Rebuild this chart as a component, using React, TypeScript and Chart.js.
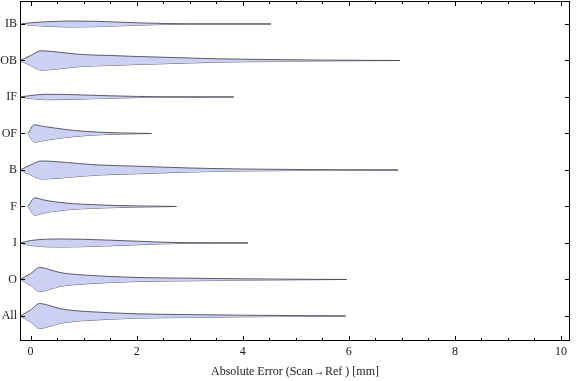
import React, { useEffect, useRef } from "react";
import { Chart, registerables } from "chart.js";

Chart.register(...registerables);

// Categories, bottom (1) to top (9)
const categories = ["All", "O", "I", "F", "B", "OF", "IF", "OB", "IB"];

// Violin outlines: x = absolute error [mm], w = half-width (category units)
const allX = [-0.2, 0, 0.17, 0.35, 0.55, 0.8, 1.05, 1.5, 2, 3, 4, 5, 5.94];
const allW = [0, 0.164, 0.342, 0.288, 0.205, 0.151, 0.123, 0.088, 0.06, 0.038, 0.022, 0.011, 0];
const oX = [-0.2, 0, 0.17, 0.35, 0.55, 0.8, 1.05, 1.5, 2, 3, 4, 5, 5.96];
const oW = [0, 0.164, 0.329, 0.274, 0.192, 0.145, 0.118, 0.082, 0.055, 0.036, 0.019, 0.008, 0];
const iX = [-0.2, 0, 0.3, 0.6, 1, 1.5, 2, 2.5, 3, 3.5, 4.1];
const iW = [0, 0.068, 0.104, 0.11, 0.101, 0.077, 0.049, 0.022, 0.008, 0.003, 0];
const fX = [-0.05, 0.08, 0.25, 0.5, 0.83, 1.2, 1.5, 2, 2.4, 2.75];
const fW = [0, 0.238, 0.178, 0.121, 0.074, 0.049, 0.033, 0.016, 0.008, 0];
const bX = [-0.2, 0, 0.2, 0.5, 0.9, 1.3, 2, 3, 4, 5, 6, 6.93];
const bW = [0, 0.137, 0.247, 0.227, 0.178, 0.137, 0.104, 0.055, 0.027, 0.014, 0.005, 0];
const ofX = [-0.05, 0.07, 0.25, 0.45, 0.83, 1.33, 1.7, 2, 2.28];
const ofW = [0, 0.238, 0.192, 0.151, 0.082, 0.033, 0.016, 0.008, 0];
const ifX = [-0.2, 0, 0.3, 0.6, 1, 1.5, 2, 2.5, 3.83];
const ifW = [0, 0.041, 0.074, 0.071, 0.055, 0.033, 0.016, 0.005, 0];
const obX = [-0.2, 0, 0.2, 0.5, 0.96, 1.5, 2, 3, 3.5, 4.5, 5.5, 6.96];
const obW = [0, 0.137, 0.266, 0.233, 0.164, 0.137, 0.11, 0.068, 0.047, 0.027, 0.011, 0];
const ibX = [-0.2, 0, 0.4, 0.8, 1.2, 1.6, 2, 2.5, 3, 4.53];
const ibW = [0, 0.033, 0.068, 0.082, 0.074, 0.055, 0.033, 0.014, 0.005, 0];

const violinXs = [allX, oX, iX, fX, bX, ofX, ifX, obX, ibX];
const violinWs = [allW, oW, iW, fW, bW, ofW, ifW, obW, ibW];

const xTicksMajor = [0, 2, 4, 6, 8, 10];
const xTicksMinor = [0.5, 1, 1.5, 2.5, 3, 3.5, 4.5, 5, 5.5, 6.5, 7, 7.5, 8.5, 9, 9.5];

const FILL = "rgb(204,208,245)";
const EDGE = "rgba(75,75,90,0.9)";
const FONT = "'Liberation Serif', 'Times New Roman', serif";

const framePlugin = {
  id: "frame",
  afterDraw(chart: any) {
    const { ctx, chartArea: a, scales } = chart;
    const x = scales.x;
    const y = scales.y;
    ctx.save();
    ctx.strokeStyle = "#000";
    ctx.lineWidth = 1;
    ctx.strokeRect(a.left + 0.5, a.top + 0.5, a.right - a.left - 1, a.bottom - a.top - 1);
    ctx.beginPath();
    const tick = (v: number, len: number) => {
      const px = Math.round(x.getPixelForValue(v)) + 0.5;
      ctx.moveTo(px, a.bottom);
      ctx.lineTo(px, a.bottom - len);
      ctx.moveTo(px, a.top);
      ctx.lineTo(px, a.top + len);
    };
    xTicksMajor.forEach((v) => tick(v, 5));
    xTicksMinor.forEach((v) => tick(v, 3));
    categories.forEach((_, i) => {
      const py = Math.round(y.getPixelForValue(i + 1)) + 0.5;
      ctx.moveTo(a.left, py);
      ctx.lineTo(a.left + 5, py);
      ctx.moveTo(a.right, py);
      ctx.lineTo(a.right - 5, py);
    });
    ctx.stroke();
    ctx.restore();
  },
};

export default function App() {
  const ref = useRef<HTMLCanvasElement>(null);
  useEffect(() => {
    if (!ref.current) return;
    const datasets: any[] = [];
    categories.forEach((c, i) => {
      const center = i + 1;
      const xs = violinXs[i];
      const ws = violinWs[i];
      const common = {
        borderColor: EDGE,
        borderWidth: 1,
        pointRadius: 0,
        cubicInterpolationMode: "monotone",
        backgroundColor: FILL,
      };
      datasets.push({
        ...common,
        label: c + " upper",
        data: xs.map((x, k) => ({ x, y: center + ws[k] })),
        fill: "+1",
      });
      datasets.push({
        ...common,
        label: c + " lower",
        data: xs.map((x, k) => ({ x, y: center - ws[k] })),
        fill: false,
      });
    });
    const chart = new Chart(ref.current, {
      type: "line",
      data: { datasets },
      options: {
        animation: false,
        responsive: false,
        layout: { padding: { top: 1, right: 6, left: 0, bottom: 0 } },
        plugins: { legend: { display: false }, tooltip: { enabled: false } },
        scales: {
          x: {
            type: "linear",
            min: -0.2,
            max: 10.17,
            grid: { display: false, drawTicks: false },
            border: { display: false },
            ticks: {
              stepSize: 2,
              includeBounds: false,
              maxRotation: 0,
              padding: 4,
              color: "#222",
              font: { family: FONT, size: 12 },
              callback: (v: any) => String(v),
            },
            title: {
              display: true,
              text: "Absolute Error (Scan\u2192Ref ) [mm]",
              color: "#222",
              font: { family: FONT, size: 12 },
              padding: { top: 0, bottom: 2 },
            },
            afterFit: (s: any) => {
              s.height = 40;
              s.paddingLeft = 0;
              s.paddingRight = 0;
            },
          },
          y: {
            type: "linear",
            min: 0.315,
            max: 9.63,
            grid: { display: false, drawTicks: false },
            border: { display: false },
            ticks: {
              stepSize: 1,
              includeBounds: false,
              autoSkip: false,
              padding: 3,
              color: "#222",
              font: { family: FONT, size: 12 },
              callback: (v: any) => categories[Math.round(v) - 1] ?? "",
            },
            afterFit: (s: any) => {
              s.width = 20;
              s.paddingTop = 0;
              s.paddingBottom = 0;
            },
          },
        },
      } as any,
      plugins: [framePlugin],
    });
    return () => chart.destroy();
  }, []);
  return (
    <div style={{ position: "absolute", left: 0, top: 0, width: 576, height: 381 }}>
      <canvas ref={ref} width={576} height={381} style={{ width: 576, height: 381 }} />
    </div>
  );
}
